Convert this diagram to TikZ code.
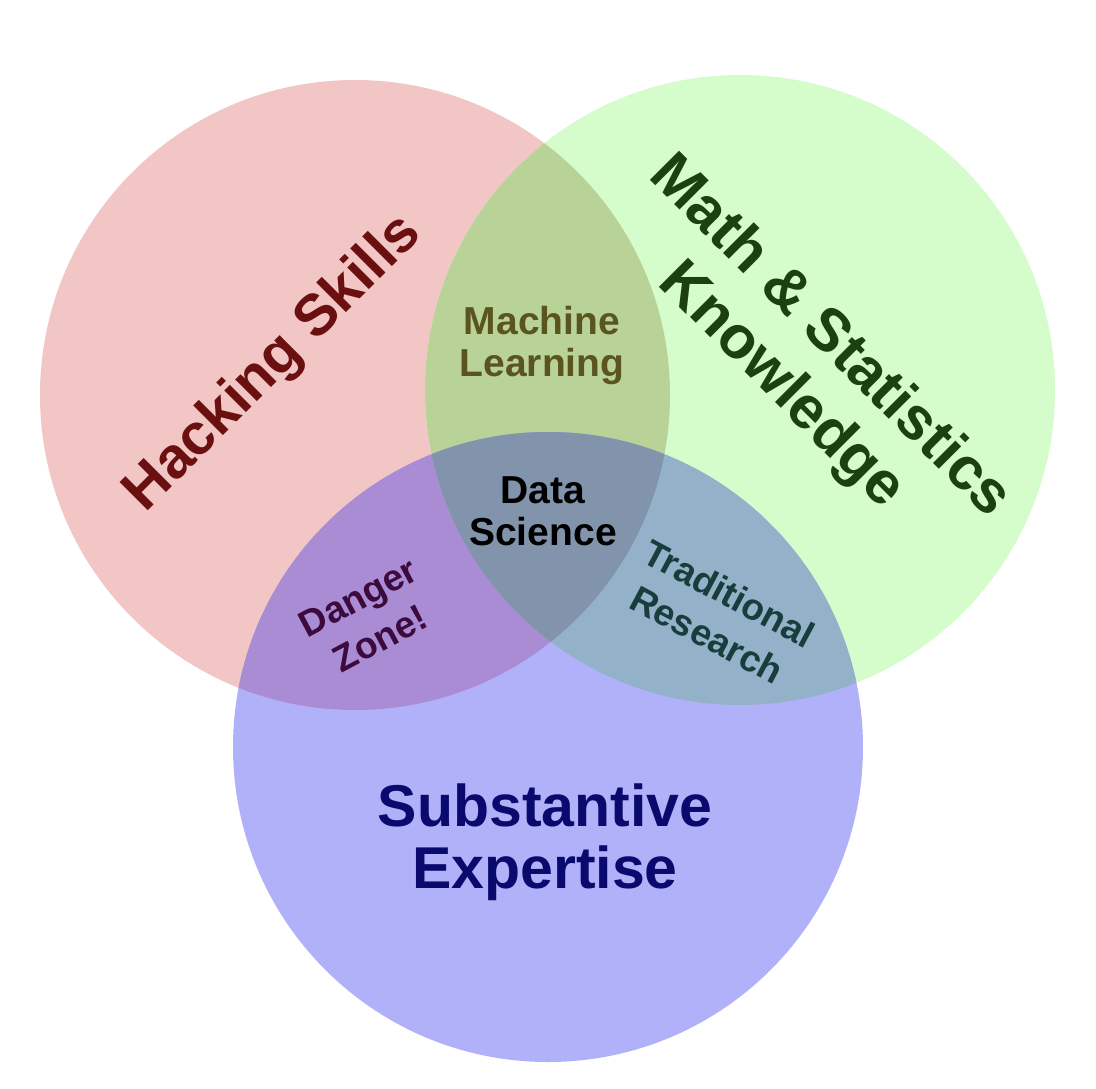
\documentclass[tikz,border=0pt]{standalone}
\usepackage{fontspec}
\setmainfont{Liberation Sans}
\definecolor{cR}{RGB}{243,198,198}
\definecolor{cG}{RGB}{213,252,203}
\definecolor{cB}{RGB}{177,177,249}
\definecolor{cRG}{RGB}{184,210,152}
\definecolor{cRB}{RGB}{170,140,212}
\definecolor{cGB}{RGB}{147,178,201}
\definecolor{cRGB}{RGB}{130,148,171}
\definecolor{tR}{RGB}{107,16,16}
\definecolor{tG}{RGB}{28,64,16}
\definecolor{tB}{RGB}{10,10,110}
\definecolor{tRG}{RGB}{90,84,30}
\definecolor{tRB}{RGB}{60,10,60}
\definecolor{tGB}{RGB}{25,60,60}
\begin{document}
\begin{tikzpicture}[x=1pt,y=-1pt,
  lbl/.style={align=center, inner sep=0pt},
  hk/.style={lbl, font=\bfseries\fontsize{58}{64}\selectfont},
  big/.style={lbl, font=\bfseries\fontsize{60}{69}\selectfont},
  mid/.style={lbl, font=\bfseries\fontsize{59}{62}\selectfont},
  small/.style={lbl, font=\bfseries\fontsize{39}{42}\selectfont},
  tiny/.style={lbl, font=\bfseries\fontsize{37}{47}\selectfont}]
\useasboundingbox (0,0) rectangle (1096,1088);
\fill[white] (0,0) rectangle (1096,1088);
\coordinate (R) at (355,395);
\coordinate (G) at (740,390);
\coordinate (B) at (548,747);
\fill[cR] (R) circle[radius=315pt];
\fill[cG] (G) circle[radius=315pt];
\fill[cB] (B) circle[radius=315pt];
\begin{scope}
  \clip (R) circle[radius=315pt];
  \fill[cRG] (G) circle[radius=315pt];
  \fill[cRB] (B) circle[radius=315pt];
\end{scope}
\begin{scope}
  \clip (G) circle[radius=315pt];
  \fill[cGB] (B) circle[radius=315pt];
\end{scope}
\begin{scope}
  \clip (R) circle[radius=315pt];
  \clip (G) circle[radius=315pt];
  \fill[cRGB] (B) circle[radius=315pt];
\end{scope}
\node[hk, text=tR, rotate=45] (hack) at (274,364) {Hacking Skills};
\node[big, text=tG, rotate=-45] (math) at (805,362) {Math \& Statistics\\Knowledge};
\node[mid, text=tB] (subst) at (545,842) {Substantive\\Expertise};
\node[small, text=tRG] (ml) at (542,345) {Machine\\Learning};
\node[small, text=black] (ds) at (543,511) {Data\\Science};
\node[tiny, text=tRB, rotate=28] (dz) at (369,618) {Danger\\Zone!};
\node[tiny, text=tGB, rotate=-28] (tr) at (718,614) {Traditional\\Research};
\end{tikzpicture}
\end{document}
